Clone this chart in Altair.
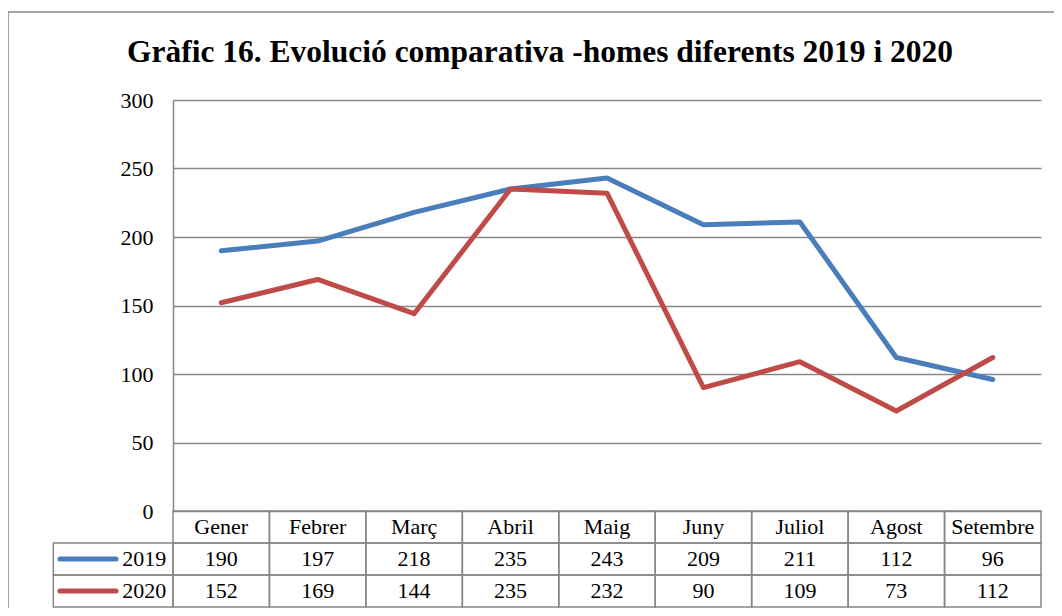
import altair as alt
import pandas as pd

# ---- data ----
months = ["Gener", "Febrer", "Març", "Abril", "Maig", "Juny", "Juliol", "Agost", "Setembre"]
v2019 = [190, 197, 218, 235, 243, 209, 211, 112, 96]
v2020 = [152, 169, 144, 235, 232, 90, 109, 73, 112]
series = ["2019", "2020"]
y_ticks = [0, 50, 100, 150, 200, 250, 300]
title_text = "Gràfic 16. Evolució comparativa -homes diferents 2019 i 2020"

# ---- style / layout ----
colors = ["#4A7EBB", "#BE4B48"]
GRID = "#878787"
FONT = "Liberation Serif"
FS = 22
W, H = 868, 411
LEG = 1.241          # width of the legend column, in month units
SW_A, SW_B = -1.172, -0.591   # swatch extent, month units
LBL_X = -0.07

values = {"2019": v2019, "2020": v2020}

line_rows = []
for s in series:
    for i, m in enumerate(months):
        line_rows.append({"month": m, "pos": i + 0.5, "serie": s, "value": values[s][i]})
line_df = pd.DataFrame(line_rows)

cell_rows, text_rows = [], []
for i, m in enumerate(months):
    cell_rows.append({"row": "h", "x0": i, "x1": i + 1})
    text_rows.append({"row": "h", "pos": i + 0.5, "label": m})
    for s in series:
        cell_rows.append({"row": s, "x0": i, "x1": i + 1})
        text_rows.append({"row": s, "pos": i + 0.5, "label": str(values[s][i])})
for s in series:
    cell_rows.append({"row": s, "x0": -LEG, "x1": 0})
cells_df = pd.DataFrame(cell_rows)
text_df = pd.DataFrame(text_rows)
leg_df = pd.DataFrame({"row": series, "serie": series, "a": [SW_A] * 2, "b": [SW_B] * 2,
                       "lx": [LBL_X] * 2})

x_scale = alt.Scale(domain=[0, 9], nice=False, zero=False)
y_scale = alt.Scale(domain=[0, 300], nice=False, zero=True)
row_scale = alt.Scale(domain=["h"] + series, range=[H, H + 96], paddingInner=0, paddingOuter=0)
color_scale = alt.Scale(domain=series, range=colors)

frame = alt.Chart(pd.DataFrame({"k": [0]})).mark_rect(
    fill="transparent", stroke=GRID, strokeWidth=1.5
).encode(x=alt.value(-165), x2=alt.value(1400), y=alt.value(-88), y2=alt.value(1400))

title = alt.Chart(pd.DataFrame({"t": [title_text]})).mark_text(
    font=FONT, fontSize=31.5, fontWeight="bold", color="black", align="center",
    baseline="alphabetic"
).encode(x=alt.value(367), y=alt.value(-38), text="t:N")

lines = alt.Chart(line_df).mark_line(strokeWidth=5, strokeCap="round", strokeJoin="round").encode(
    x=alt.X("pos:Q", scale=x_scale, axis=None),
    y=alt.Y("value:Q", scale=y_scale,
            axis=alt.Axis(values=y_ticks, title=None, ticks=False, labelPadding=20,
                          labelFont=FONT, labelFontSize=FS, labelColor="black",
                          domainColor=GRID, domainWidth=1.5, grid=True,
                          gridColor=GRID, gridWidth=1.5)),
    color=alt.Color("serie:N", scale=color_scale, legend=None),
    detail="serie:N",
)

cells = alt.Chart(cells_df).mark_rect(fill="transparent", stroke=GRID, strokeWidth=1.5).encode(
    x=alt.X("x0:Q", scale=x_scale, axis=None),
    x2="x1:Q",
    y=alt.Y("row:N", scale=row_scale, axis=None),
)
texts = alt.Chart(text_df).mark_text(font=FONT, fontSize=FS, color="black", baseline="middle").encode(
    x=alt.X("pos:Q", scale=x_scale, axis=None),
    y=alt.Y("row:N", scale=row_scale, axis=None),
    text="label:N",
)
swatch = alt.Chart(leg_df).mark_rule(strokeWidth=5, strokeCap="round").encode(
    x=alt.X("a:Q", scale=x_scale, axis=None),
    x2="b:Q",
    y=alt.Y("row:N", scale=row_scale, axis=None),
    color=alt.Color("serie:N", scale=color_scale, legend=None),
)
leg_text = alt.Chart(leg_df).mark_text(font=FONT, fontSize=FS, color="black", align="right",
                                       baseline="middle").encode(
    x=alt.X("lx:Q", scale=x_scale, axis=None),
    y=alt.Y("row:N", scale=row_scale, axis=None),
    text="row:N",
)

table = alt.layer(cells, texts, swatch, leg_text)

chart = alt.layer(frame, title, lines, table).resolve_scale(y="independent").properties(
    width=W, height=H,
    padding={"left": 165, "top": 92, "right": 13, "bottom": 97},
    autosize=alt.AutoSizeParams(type="none"),
).configure_view(stroke=None)

chart.save("out.html", embed_options={"renderer": "svg", "actions": False})
